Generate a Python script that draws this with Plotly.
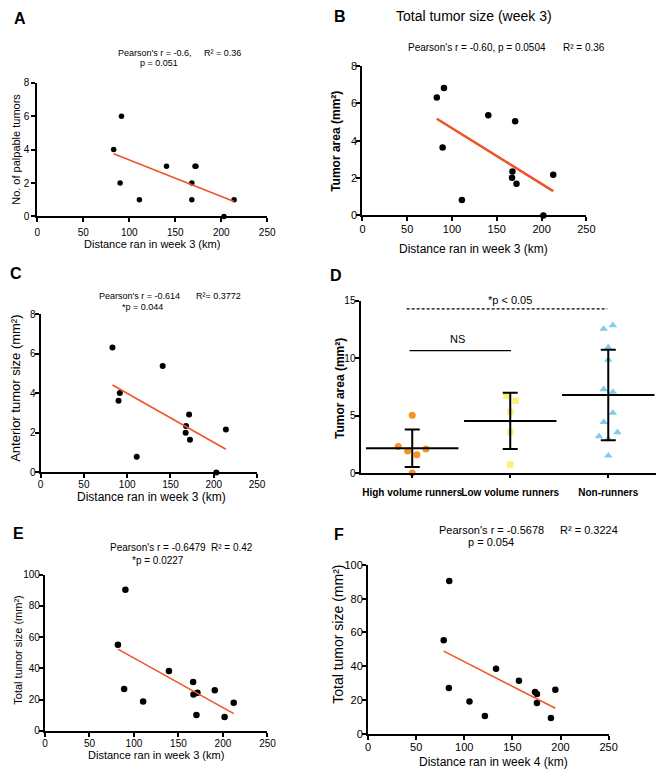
import numpy as np
import plotly.graph_objects as go

W, H = 670, 781
FONT = "Liberation Sans, Arial, Helvetica, sans-serif"

# ---------------- data ----------------
# Panel A
week3_a = [83, 90, 91.5, 111, 140.5, 168, 168, 171.5, 172.5, 203, 214]
palpable_a = [4, 2, 6, 1, 3, 2, 1, 3, 3, 0, 1]
# Panel B
week3_b = [83, 89.5, 91, 111, 140.5, 167, 167.5, 170.5, 172, 202, 213]
tumor_area_b = [6.31, 3.64, 6.82, 0.83, 5.36, 2.02, 2.35, 5.04, 1.69, 0, 2.18]
# Panel C
week3_c = [83, 90, 91.5, 111, 141, 167.5, 168, 171.5, 172.5, 203, 214]
anterior_c = [6.33, 3.63, 4.02, 0.8, 5.39, 2.01, 2.35, 2.94, 1.66, 0, 2.18]
# Panel D
d_groups = ["High volume runners", "Low volume runners", "Non-runners"]
high_volume = [5.03, 2.31, 1.91, 1.6, 2.09, 0]
low_volume = [6.74, 6.29, 5.34, 3.57, 0.74]
non_runners = [12.54, 12.86, 10.94, 9.86, 7.29, 7.06, 5.23, 4.43, 3.2, 3.54, 1.51, 2.95]
# Panel E
week3_e = [82, 90.4, 89, 110.3, 139.3, 166.5, 166.9, 171.3, 170.2, 190.8, 201.8, 212.1]
total_e = [55.2, 90.5, 26.7, 18.7, 38.3, 31.2, 23.2, 24.4, 10.1, 25.9, 8.8, 17.9]
# Panel F
week4_f = [78.6, 84.4, 84, 105.4, 121.4, 133, 156.8, 173.5, 175.5, 175.5, 190, 194.6]
total_f = [55.4, 90.5, 27, 19, 10.5, 38.5, 31.3, 24.7, 23.5, 18.1, 9.3, 26.1]

# horizontal jitter for the dot plot (style only)
jit_high = [0, -0.143, -0.047, 0.047, 0.14, 0]
jit_low = [-0.04, 0.053, 0, 0, 0]
jit_non = [-0.047, 0.047, 0, 0, -0.047, 0.047, 0.047, -0.047, -0.094, 0.094, 0, 0]

x_ticks_dist = [0, 50, 100, 150, 200, 250]

fig = go.Figure()
layout = dict(
    width=W, height=H, margin=dict(l=0, r=0, t=0, b=0),
    paper_bgcolor="white", plot_bgcolor="white", showlegend=False,
    font=dict(family=FONT, color="black"),
)
annotations = []
shapes = []


def px2x(px):
    return px / W


def py2y(py):
    return 1 - py / H


def add_axes(n, x0, x1, ytop, ybot, xr, yr, xt, yt, fs, xso=0, yso=0, xtext=None):
    sx = "" if n == 1 else str(n)
    xa = dict(domain=[px2x(x0), px2x(x1)], range=xr, anchor="y" + sx,
              showline=True, linecolor="black", linewidth=2, ticks="outside",
              ticklen=4, tickwidth=1.5, tickcolor="black", showgrid=False,
              zeroline=False, tickvals=xt, ticklabelstandoff=xso, tickangle=0,
              tickfont=dict(size=fs, color="black", family=FONT))
    if xtext is not None:
        xa["ticktext"] = xtext
    ya = dict(domain=[py2y(ybot), py2y(ytop)], range=yr, anchor="x" + sx,
              showline=True, linecolor="black", linewidth=2, ticks="outside",
              ticklen=4, tickwidth=1.5, tickcolor="black", showgrid=False,
              zeroline=False, tickvals=yt, ticklabelstandoff=yso,
              tickfont=dict(size=fs, color="black", family=FONT))
    layout["xaxis" + sx] = xa
    layout["yaxis" + sx] = ya
    return "x" + sx, "y" + sx


def ann(text, px, py, size, xanchor="left", bold=False, angle=0):
    annotations.append(dict(text=text, x=px2x(px), y=py2y(py), xref="paper", yref="paper",
                            xanchor=xanchor, yanchor="middle", showarrow=False,
                            textangle=angle,
                            font=dict(size=size, family=FONT, color="black",
                                      weight="bold" if bold else "normal")))


def scatter_panel(xax, yax, xs, ys, msize, lw):
    fig.add_trace(go.Scatter(x=xs, y=ys, mode="markers", xaxis=xax, yaxis=yax,
                             cliponaxis=False,
                             marker=dict(color="black", size=msize)))
    k, b = np.polyfit(xs, ys, 1)
    xl = np.array([min(xs), max(xs)])
    fig.add_trace(go.Scatter(x=xl, y=k * xl + b, mode="lines", xaxis=xax, yaxis=yax,
                             line=dict(color="#EE5427", width=lw)))


# ---------- Panel A ----------
xa, ya = add_axes(1, 35, 269, 78, 213.7, [0, 250], [0, 8], x_ticks_dist, [0, 2, 4, 6, 8], 10, xso=2, yso=0)
scatter_panel(xa, ya, week3_a, palpable_a, 5.5, 1.5)
ann("A", 17.5, 13, 16, "center", bold=True)
ann("Pearson's r = -0.6,", 115, 47.7, 9)
ann("R² = 0.36", 203, 47.7, 9)
ann("p = 0.051", 137, 57.5, 9)
ann("No. of palpable tumors", 13.3, 146, 11, "center", angle=-90)
ann("Distance ran in week 3 (km)", 151.7, 242, 11, "center")

# ---------- Panel B ----------
xb, yb = add_axes(2, 366, 594, 61, 212.7, [0, 250], [0, 8], x_ticks_dist, [0, 2, 4, 6, 8], 11, xso=-2, yso=-3)
scatter_panel(xb, yb, week3_b, tumor_area_b, 6.5, 2.5)
ann("B", 343.5, 10.5, 16, "center", bold=True)
ann("Total tumor size (week 3)", 398.5, 10.5, 14)
ann("Pearson's r = -0.60, p = 0.0504", 410, 41.7, 10)
ann("R² = 0.36", 568.3, 41.7, 10)
ann("Tumor area (mm²)", 339, 137, 12, "center", bold=True, angle=-90)
ann("Distance ran in week 3 (km)", 479.3, 247, 12, "center")

# ---------- Panel C ----------
xc, yc = add_axes(3, 38.3, 258.7, 313.3, 473.7, [0, 250], [0, 8], x_ticks_dist, [0, 2, 4, 6, 8], 10, xso=-2, yso=-3)
scatter_panel(xc, yc, week3_c, anterior_c, 6, 1.5)
ann("C", 13.5, 271.7, 16, "center", bold=True)
ann("Pearson's r = -0.614", 95.7, 294.3, 9)
ann("R²= 0.3772", 194, 294.3, 9)
ann("*p = 0.044", 119, 305.3, 9)
ann("Anterior tumor size (mm²)", 12, 388, 13, "center", angle=-90)
ann("Distance ran in week 3 (km)", 151.7, 499, 12, "center")

# ---------- Panel D ----------
xd, yd = add_axes(4, 365, 665, 299.3, 474.3, [-0.518, 2.488], [0, 15], [0, 1, 2], [0, 5, 10, 15], 10,
                  xso=6, yso=-2, xtext=d_groups)
layout["xaxis4"]["ticklen"] = 3
layout["xaxis4"]["tickfont"]["weight"] = "bold"
groups = [(high_volume, jit_high, "circle", "#F7941E", 7),
          (low_volume, jit_low, "square", "#FCEF78", 6.5),
          (non_runners, jit_non, "triangle-up", "#80CBEF", 7.5)]
for i, (vals, jit, sym, col, ms) in enumerate(groups):
    fig.add_trace(go.Scatter(x=[i + j for j in jit], y=vals, mode="markers", xaxis=xd, yaxis=yd,
                             cliponaxis=False,
                             marker=dict(symbol=sym, color=col, size=ms, line=dict(width=0))))
for i, (vals, jit, sym, col, ms) in enumerate(groups):
    m = float(np.mean(vals))
    sd = float(np.std(vals, ddof=1))
    fig.add_trace(go.Scatter(x=[i], y=[m], mode="markers", xaxis=xd, yaxis=yd,
                             marker=dict(symbol="line-ew", size=66, color="black",
                                         line=dict(width=2, color="black")),
                             error_y=dict(type="data", array=[sd], visible=True,
                                          color="black", thickness=2, width=7.5)))
shapes.append(dict(type="line", xref=xd, yref=yd, x0=-0.057, x1=1.99, y0=14.28, y1=14.28,
                   line=dict(color="black", width=1.2, dash="3px,2px")))
shapes.append(dict(type="line", xref=xd, yref=yd, x0=-0.027, x1=1.008, y0=10.65, y1=10.65,
                   line=dict(color="black", width=1.2)))
ann("*p < 0.05", 516.7, 298.3, 11, "center")
ann("NS", 462.3, 338.3, 11, "center")
ann("D", 339, 273.3, 16, "center", bold=True)
ann("Tumor area (mm²)", 343, 388, 12, "center", bold=True, angle=-90)

# ---------- Panel E ----------
xe, ye = add_axes(5, 42.7, 269.3, 577.7, 736, [0, 250], [0, 100], x_ticks_dist, [0, 20, 40, 60, 80, 100], 10, xso=-2, yso=-3)
scatter_panel(xe, ye, week3_e, total_e, 6.5, 1.5)
ann("E", 15.5, 536, 16, "center", bold=True)
ann("Pearson's r = -0.6479", 106.7, 550, 10)
ann("R² = 0.42", 210, 550, 10)
ann("*p = 0.0227", 129, 563.3, 10)
ann("Total tumor size (mm²)", 15, 654, 11, "center", angle=-90)
ann("Distance ran in week 3 (km)", 155.3, 760.3, 11, "center")

# ---------- Panel F ----------
xf, yf = add_axes(6, 371.7, 616.7, 567.7, 739, [0, 250], [0, 100], x_ticks_dist, [0, 20, 40, 60, 80, 100], 11, xso=-2, yso=-3)
scatter_panel(xf, yf, week4_f, total_f, 6.5, 1.5)
ann("F", 342.5, 537, 16, "center", bold=True)
ann("Pearson's r = -0.5678", 441.7, 531.7, 11)
ann("R² = 0.3224", 565, 531.7, 11)
ann("p = 0.054", 471.7, 544.3, 11)
ann("Total tumor size (mm²)", 341.7, 638, 14, "center", angle=-90)
ann("Distance ran in week 4 (km)", 499, 768, 12, "center")

layout["annotations"] = annotations
layout["shapes"] = shapes
fig.update_layout(**layout)
fig.write_html("out.html", config={"displayModeBar": False},
               post_script="document.body.style.margin='0';document.body.style.overflow='hidden';")
